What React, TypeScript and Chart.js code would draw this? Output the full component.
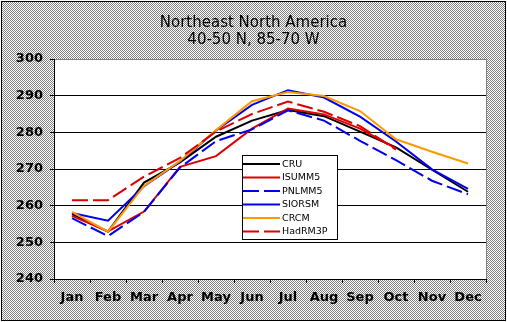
import React, { useEffect, useRef } from "react";
import { Chart, registerables } from "chart.js";

Chart.register(...registerables);

const months = ["Jan", "Feb", "Mar", "Apr", "May", "Jun", "Jul", "Aug", "Sep", "Oct", "Nov", "Dec"];
const titleLines = ["Northeast North America", "40-50 N, 85-70 W"];

const cru = [257.7, 252.9, 266.3, 271.8, 278.8, 283.2, 286.1, 284.4, 280.2, 275.9, 269.8, 263.8];
const isumm5 = [257.2, 253.0, 258.4, 270.6, 273.5, 281.0, 286.5, 284.9, 281.0, 275.6, null, null];
const pnlmm5 = [256.6, 251.7, 258.3, 270.4, 277.6, 280.8, 286.0, 283.2, 277.7, 272.4, 266.8, 263.1];
const siorsm = [258.0, 255.9, 265.3, 272.0, 280.5, 287.5, 291.5, 289.5, 284.3, 277.5, 269.9, 264.6];
const crcm = [258.3, 252.9, 265.4, 272.2, 280.6, 288.5, 291.0, 289.9, 285.8, 278.1, 274.7, 271.5];
const hadrm3p = [261.5, 261.5, 267.9, 273.0, 280.2, 285.0, 288.4, 285.6, 281.7, 275.3, null, null];

const yMin = 240;
const yMax = 300;
const yStep = 10;

const FONT = '"DejaVu Sans", Verdana, sans-serif';

const backgroundPlugin = {
  id: "bgFrame",
  beforeDraw(chart: any) {
    const { ctx, chartArea } = chart;
    ctx.save();
    const pc = document.createElement("canvas");
    pc.width = 2;
    pc.height = 2;
    const p = pc.getContext("2d")!;
    p.fillStyle = "#ffffff";
    p.fillRect(0, 0, 2, 2);
    p.fillStyle = "#808080";
    p.fillRect(0, 0, 1, 1);
    p.fillRect(1, 1, 1, 1);
    const pat = ctx.createPattern(pc, "repeat");
    ctx.fillStyle = pat;
    ctx.fillRect(1, 1, 505, 320);
    ctx.strokeStyle = "#000";
    ctx.lineWidth = 1;
    ctx.strokeRect(1.5, 1.5, 504, 319);
    ctx.fillStyle = "#ffffff";
    ctx.fillRect(chartArea.left, chartArea.top, chartArea.right - chartArea.left, chartArea.bottom - chartArea.top);
    ctx.strokeStyle = "#808080";
    ctx.beginPath();
    ctx.moveTo(chartArea.left, Math.round(chartArea.top) + 0.5);
    ctx.lineTo(Math.round(chartArea.right) + 0.5, Math.round(chartArea.top) + 0.5);
    ctx.lineTo(Math.round(chartArea.right) + 0.5, chartArea.bottom);
    ctx.stroke();
    ctx.restore();
  },
};

const legendPlugin = {
  id: "boxLegend",
  afterDatasetsDraw(chart: any) {
    const { ctx } = chart;
    ctx.save();
    const x0 = 242.5;
    const y0 = 155.5;
    const w = 95;
    const h = 84;
    ctx.fillStyle = "#fff";
    ctx.fillRect(x0, y0, w, h);
    ctx.strokeStyle = "#000";
    ctx.lineWidth = 1;
    ctx.strokeRect(x0, y0, w, h);
    chart.data.datasets.forEach((ds: any, i: number) => {
      const y = 164 + i * 13.5;
      ctx.beginPath();
      ctx.setLineDash(ds.borderDash || []);
      ctx.strokeStyle = ds.borderColor;
      ctx.lineWidth = 2;
      ctx.moveTo(243, y);
      ctx.lineTo(280, y);
      ctx.stroke();
      ctx.setLineDash([]);
      ctx.fillStyle = "#000";
      ctx.font = `9.5px ${FONT}`;
      ctx.textBaseline = "middle";
      ctx.textAlign = "left";
      ctx.fillText(ds.label, 282, y + 0.5);
    });
    ctx.restore();
  },
};

export default function App() {
  const ref = useRef<HTMLCanvasElement | null>(null);

  useEffect(() => {
    document.body.style.margin = "0";
    const canvas = ref.current!;
    const mk = (label: string, data: any[], color: string, dash: number[] | undefined, order: number) => ({
      label,
      data,
      borderColor: color,
      backgroundColor: color,
      borderWidth: 2,
      borderDash: dash,
      pointRadius: 0,
      tension: 0,
      fill: false,
      spanGaps: false,
      order,
    });
    const chart = new Chart(canvas, {
      type: "line",
      data: {
        labels: months,
        datasets: [
          mk("CRU", cru, "#000000", undefined, 5),
          mk("ISUMM5", isumm5, "#dd0000", undefined, 4),
          mk("PNLMM5", pnlmm5, "#0000ee", [16, 5], 3),
          mk("SIORSM", siorsm, "#0000ee", undefined, 2),
          mk("CRCM", crcm, "#ff9900", undefined, 1),
          mk("HadRM3P", hadrm3p, "#dd0000", [16, 5], 0),
        ] as any,
      },
      options: {
        responsive: false,
        animation: false,
        devicePixelRatio: 1,
        layout: { padding: 0 },
        plugins: {
          legend: { display: false },
          tooltip: { enabled: false },
          title: {
            display: true,
            text: titleLines,
            color: "#000",
            font: { family: FONT, size: 15, weight: "normal", lineHeight: 1.15 },
            padding: { top: 14.4, bottom: 10.1 },
          },
        },
        scales: {
          x: {
            offset: true,
            grid: {
              offset: true,
              drawOnChartArea: false,
              drawTicks: true,
              tickLength: 4,
              tickColor: "#000",
              color: "#000",
            },
            border: { display: true, color: "#000", width: 1 },
            ticks: {
              color: "#000",
              font: { family: FONT, size: 13, weight: "bold" },
              padding: 7,
              maxRotation: 0,
              autoSkip: false,
            },
            afterFit: (s: any) => {
              s.height = 43;
            },
          },
          y: {
            min: yMin,
            max: yMax,
            grid: {
              color: (c: any) => (c.tick && c.tick.value === yMax ? "#808080" : "#000"),
              lineWidth: 1,
              drawTicks: true,
              tickLength: 4,
              tickColor: "#000",
            },
            border: { display: true, color: "#000", width: 1 },
            ticks: {
              stepSize: yStep,
              color: "#000",
              font: { family: FONT, size: 13, weight: "bold" },
              padding: 7,
            },
            afterFit: (s: any) => {
              s.width = 54;
            },
          },
          yRight: {
            position: "right",
            min: yMin,
            max: yMax,
            grid: { display: false, drawOnChartArea: false, drawTicks: false },
            border: { display: false },
            ticks: { display: false },
            afterFit: (s: any) => {
              s.width = 21;
            },
          },
        },
      } as any,
      plugins: [backgroundPlugin, legendPlugin],
    });
    return () => chart.destroy();
  }, []);

  return (
    <div style={{ width: 507, height: 322 }}>
      <canvas ref={ref} width={507} height={322} style={{ display: "block" }} />
    </div>
  );
}
